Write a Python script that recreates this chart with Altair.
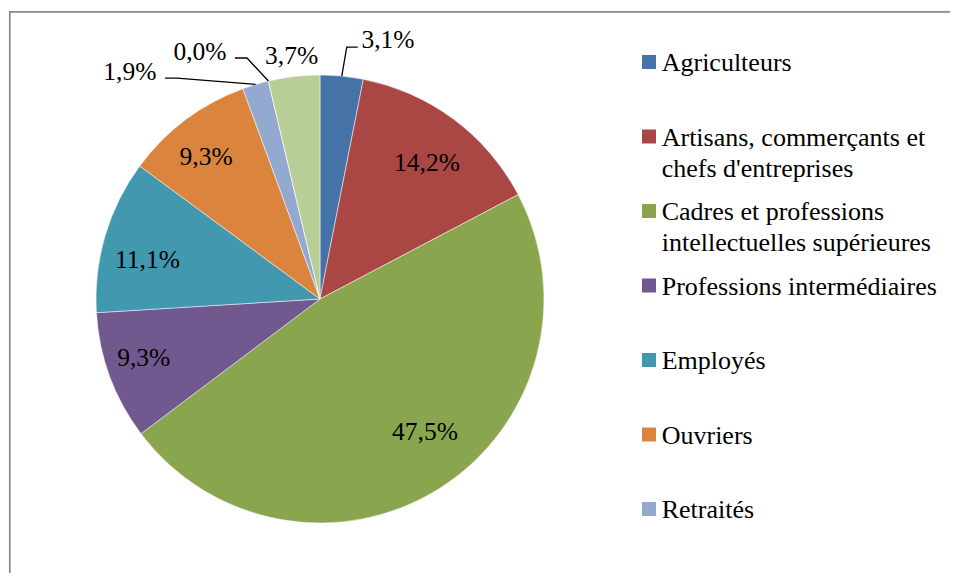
import altair as alt
import pandas as pd
import numpy as np

# ---------------- data ----------------
categories = [
    "Agriculteurs",
    "Artisans, commerçants et chefs d'entreprises",
    "Cadres et professions intellectuelles supérieures",
    "Professions intermédiaires",
    "Employés",
    "Ouvriers",
    "Retraités",
    "Autres personnes sans activité professionnelle",
    "Non renseigné",
]
legend_labels = [
    "Agriculteurs",
    "Artisans, commerçants et\nchefs d'entreprises",
    "Cadres et professions\nintellectuelles supérieures",
    "Professions intermédiaires",
    "Employés",
    "Ouvriers",
    "Retraités",
]
values = [3.1, 14.2, 47.5, 9.3, 11.1, 9.3, 1.9, 0.0, 3.7]
colors = ["#4572A7", "#AA4643", "#89A54E", "#71588F", "#4198AF",
          "#DB843D", "#93A9CF", "#D19392", "#B9CD96"]

# ---------------- layout constants ----------------
W, H = 942, 565
CX, CY = 312, 291
R = 224
FONT = "Liberation Serif"

total = float(sum(values))
df = pd.DataFrame({"idx": list(range(len(values))), "cat": categories, "value": values})
df["lbl"] = [f"{v:.1f}%".replace(".", ",") for v in values]

color = alt.Color("cat:N", scale=alt.Scale(domain=categories, range=colors), legend=None)
theta = alt.Theta("value:Q", stack=True)
order = alt.Order("idx:Q", sort="ascending")
cx, cy = alt.value(CX), alt.value(CY)

base = alt.Chart(df)

pie = base.mark_arc(radius=R, stroke="white", strokeWidth=0.5).encode(
    theta=theta, order=order, color=color, x=cx, y=cy
)

# data labels (label placement per slice: radius and nudge)
label_place = [
    (0, 262, 42.5, 1.8),
    (1, 177, 1.3, 5.9),
    (2, 177, 10.2, -16),
    (3, 177, -10.2, -2.4),
    (4, 177, -2.8, 11.6),
    (5, 177, -7.7, -0.8),
    (6, 235, -122.5, -2),
    (7, 250, -62.5, -3.7),
    (8, 245, 0, 0),
]
labels = []
for i, r, dx, dy in label_place:
    labels.append(
        base.transform_calculate(t=f"datum.idx == {i} ? datum.lbl : ''")
        .mark_text(radius=r, dx=dx, dy=dy, font=FONT, fontSize=25.5, color="black")
        .encode(theta=theta, order=order, text="t:N", x=cx, y=cy)
    )

# leader lines: start on the slice edge (from the data angle), then elbow offsets
cum = np.concatenate([[0.0], np.cumsum(values)])
rows = []
for i, offs in [
    (0, [(0, 0), (5, -29), (16, -29)]),
    (7, [(0, 0), (-21.5, -23), (-33.5, -23)]),
    (6, [(0, 0), (-78.6, -6.4), (-90.6, -6.4)]),
]:
    a = (cum[i] + 0.5 * values[i]) / total * 2 * np.pi
    sx, sy = CX + R * np.sin(a), CY - R * np.cos(a)
    for k, (ox, oy) in enumerate(offs):
        rows.append({"g": str(i), "k": k, "x": sx + ox, "y": sy + oy})
ldf = pd.DataFrame(rows)
leaders = alt.Chart(ldf).mark_line(color="black", strokeWidth=1.3).encode(
    x=alt.X("x:Q", scale=None, axis=None),
    y=alt.Y("y:Q", scale=None, axis=None),
    detail="g:N", order="k:Q"
)

# legend
legdf = pd.DataFrame({"idx": list(range(7)), "cat": categories[:7], "text": legend_labels})
ly = alt.Y("idx:Q", scale=alt.Scale(domain=[0, 6], range=[54, 501]), axis=None)
sym = alt.Chart(legdf).mark_point(shape="square", filled=True, size=196, opacity=1, strokeWidth=0).encode(
    x=alt.value(641), y=ly, color=color
)
txt = alt.Chart(legdf).mark_text(
    align="left", baseline="alphabetic", dy=9, lineBreak="\n", lineHeight=31,
    font=FONT, fontSize=26, color="black"
).encode(x=alt.value(653.7), y=ly, text="text:N")

# frame (left and top edges visible)
bdf = pd.DataFrame({"a": [0]})
left = alt.Chart(bdf).mark_rule(color="#898989", strokeWidth=1.7).encode(
    x=alt.value(1.8), y=alt.value(3), y2=alt.value(H)
)
top = alt.Chart(bdf).mark_rule(color="#898989", strokeWidth=1.7).encode(
    x=alt.value(1), x2=alt.value(W), y=alt.value(3.8)
)

chart = (
    alt.layer(left, top, pie, *labels, leaders, sym, txt)
    .resolve_scale(x="independent", y="independent")
    .properties(width=W, height=H, padding=0, background="white",
                autosize=alt.AutoSizeParams(type="none"))
    .configure_view(stroke=None)
)

chart.save("out.html", embed_options={"renderer": "svg", "actions": False})
